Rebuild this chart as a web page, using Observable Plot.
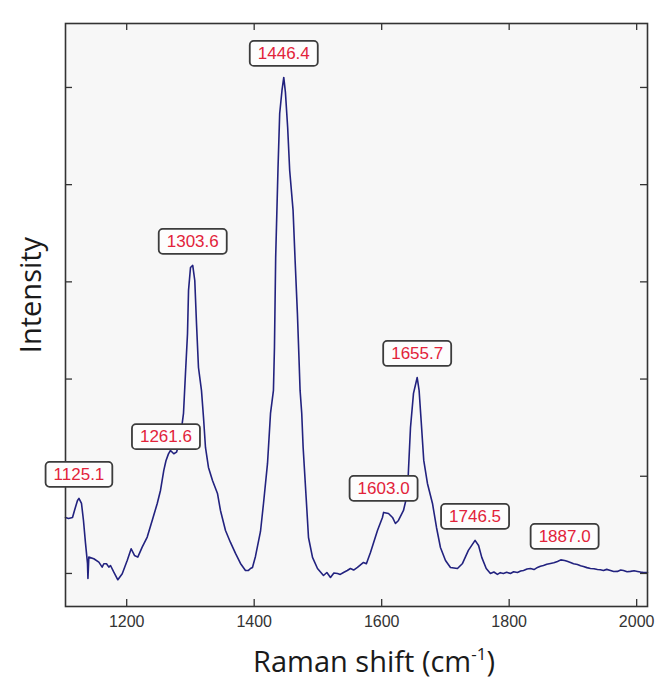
<!DOCTYPE html>
<html>
<head>
<meta charset="utf-8">
<script src="https://cdn.jsdelivr.net/npm/d3@7"></script>
<script src="https://cdn.jsdelivr.net/npm/@observablehq/plot@0.6"></script>
<style>
  html, body { margin: 0; padding: 0; background: #ffffff; }
</style>
</head>
<body>
<div id="chart"></div>
<script>
// Raman spectrum: wavenumber (cm-1) and intensity (arbitrary units)
const wavenumber = [
  1104, 1108.7, 1115, 1118.1, 1122.8, 1125.1, 1129.1, 1132.2, 1135.4, 1138.5,
  1139.2, 1140.6, 1148.4, 1156.3, 1161.5, 1164.1, 1168.3, 1172, 1174.6, 1179.8,
  1186.1, 1193, 1200.8, 1207, 1212.2, 1217.4, 1224.3, 1232.2, 1240, 1247.8,
  1253, 1258.2, 1261.6, 1265.5, 1268.7, 1273.9, 1278.1, 1283.3, 1289.1, 1292.2,
  1295.4, 1297, 1300.1, 1303.6, 1306.8, 1309.5, 1312.6, 1317.3, 1320.5, 1323.6,
  1328.3, 1334.6, 1342.4, 1347.1, 1355, 1362.8, 1370.7, 1378.5, 1386.3, 1391,
  1394.2, 1397.3, 1402, 1409.9, 1414.6, 1420.9, 1425.6, 1430.2, 1431.8, 1433.7,
  1437.4, 1440, 1443.6, 1446.4, 1449, 1452.5, 1455.7, 1461, 1464.2, 1467.8,
  1470.4, 1472, 1474.6, 1476.8, 1481.5, 1485.2, 1491.5, 1499.3, 1508.7, 1514,
  1519.7, 1525, 1530.7, 1535, 1540.1, 1546, 1551, 1556, 1562, 1571.5,
  1576, 1582.4, 1593.4, 1601.2, 1603.0, 1610.7, 1617, 1621.6, 1626.3, 1634.2,
  1640.5, 1642, 1645.2, 1649.9, 1655.7, 1658.7, 1661.9, 1666, 1671.8, 1679.7,
  1686, 1692.2, 1700.1, 1707.9, 1718.9, 1726.8, 1736, 1746.5, 1752, 1757,
  1764, 1770.6, 1776, 1781.6, 1786, 1791, 1796, 1802, 1807, 1813,
  1818, 1822.5, 1828, 1833.4, 1839, 1844.4, 1849, 1853.8, 1859, 1864.8,
  1870, 1875.8, 1881, 1887.0, 1891, 1896.2, 1901, 1907.1, 1912, 1916.5,
  1922, 1927.5, 1933, 1938.5, 1943, 1947.9, 1953, 1958.9, 1964, 1969.9,
  1975, 1979.3, 1985, 1990.3, 1996, 2001.3, 2006, 2010.7, 2017
];
const intensity = [
  576, 566, 576, 648, 751, 772, 720, 545, 309, 103,
  -51, 168, 151, 116, 65, 100, 100, 65, 82, 13,
  -65, -3, 134, 254, 185, 168, 271, 374, 545, 717,
  854, 1060, 1160, 1230, 1265, 1231, 1248, 1351, 1646, 2058,
  2469, 2912, 3148, 3169, 3014, 2572, 2119, 1883, 1605, 1296,
  1091, 957, 823, 648, 442, 319, 206, 103, 31, 31,
  51, 62, 175, 432, 720, 1132, 1646, 1883, 2325, 3251,
  4177, 4732, 4969, 5103, 4949, 4589, 4146, 3735, 3220, 2675,
  2191, 1883, 1646, 1296, 782, 370, 165, 51, -21, 10,
  -41, 5, 0, -10, 10, 30, 51, 35, 62, 113,
  100, 216, 442, 576, 628, 617, 576, 514, 545, 648,
  823, 1060, 1502, 1852, 2016, 1883, 1574, 1163, 926, 720,
  473, 267, 134, 62, 51, 103, 237, 340, 288, 165,
  51, 0, 15, -10, 8, 0, 12, 0, 18, 10,
  25, 31, 45, 51, 40, 62, 75, 82, 95, 103,
  110, 123, 140, 134, 125, 113, 100, 93, 80, 72,
  60, 51, 48, 41, 38, 31, 42, 31, 20, 21,
  35, 31, 18, 21, 28, 21, 14, 10, 10
];

// Annotated band positions (cm-1)
const peakPositions = [1125.1, 1261.6, 1303.6, 1446.4, 1603.0, 1655.7, 1746.5, 1887.0];

const xTicks = [1200, 1400, 1600, 1800, 2000];
const yTicks = [0, 1000, 2000, 3000, 4000, 5000];

const spectrum = wavenumber.map((x, i) => ({x, y: intensity[i]}));
const peaks = peakPositions.map(p => ({
  x: p,
  y: intensity[wavenumber.indexOf(p)],
  label: p.toFixed(1)
}));

const W = 662, H = 680;
const mL = 65, mR = 15, mT = 23, mB = 74;
const innerW = W - mL - mR, innerH = H - mT - mB;
const tickLen = 7;
const axisColor = "#333333";

const svg = Plot.plot({
  width: W,
  height: H,
  marginLeft: mL,
  marginRight: mR,
  marginTop: mT,
  marginBottom: mB,
  style: {background: "transparent", fontFamily: "'Liberation Sans', Arial, sans-serif", fontSize: "16px", color: axisColor},
  x: {domain: [1104, 2017], ticks: xTicks, tickSize: 0, tickPadding: 9, tickFormat: d => String(d), label: null},
  y: {domain: [-340, 5658], axis: null},
  marks: [
    Plot.frame({fill: "#f7f7f7", stroke: null}),
    Plot.line(spectrum, {x: "x", y: "y", stroke: "#22227f", strokeWidth: 1.6}),
    // inward ticks on all four sides
    Plot.tickX(xTicks, {x: d => d, insetTop: innerH - tickLen, stroke: axisColor, strokeWidth: 1.3}),
    Plot.tickX(xTicks, {x: d => d, insetBottom: innerH - tickLen, stroke: axisColor, strokeWidth: 1.3}),
    Plot.tickY(yTicks, {y: d => d, insetRight: innerW - tickLen, stroke: axisColor, strokeWidth: 1.3}),
    Plot.tickY(yTicks, {y: d => d, insetLeft: innerW - tickLen, stroke: axisColor, strokeWidth: 1.3}),
    Plot.frame({stroke: axisColor, strokeWidth: 1.6}),
    Plot.text(peaks, {
      x: "x", y: "y", text: "label", dy: -24,
      fill: "#e2233a", fontSize: 17,
      fontFamily: "'Liberation Sans', Arial, sans-serif",
      textAnchor: "middle", lineAnchor: "middle"
    })
  ]
});

document.getElementById("chart").append(svg);

// rounded boxes behind the peak labels
svg.querySelectorAll('g[aria-label="text"] text').forEach(t => {
  const b = t.getBBox();
  const padX = 8, padY = 3;
  const r = document.createElementNS("http://www.w3.org/2000/svg", "rect");
  r.setAttribute("x", b.x - padX);
  r.setAttribute("y", b.y - padY);
  r.setAttribute("width", b.width + 2 * padX);
  r.setAttribute("height", b.height + 2 * padY);
  r.setAttribute("rx", 4);
  r.setAttribute("fill", "#fdfdfd");
  r.setAttribute("stroke", "#3c3c3c");
  r.setAttribute("stroke-width", 1.8);
  const tr = t.getAttribute("transform");
  if (tr) r.setAttribute("transform", tr);
  t.parentNode.insertBefore(r, t);
});

// axis titles
const s = d3.select(svg);
s.append("text")
  .attr("transform", `translate(41,295) rotate(-90)`)
  .attr("text-anchor", "middle")
  .attr("fill", "#1a1a1a")
  .style("font-family", "'Open Sans', sans-serif")
  .style("font-size", "29px")
  .text("Intensity");

const xt = s.append("text")
  .attr("x", 374)
  .attr("y", 672)
  .attr("text-anchor", "middle")
  .attr("fill", "#1a1a1a")
  .style("font-family", "'Open Sans', sans-serif")
  .style("font-size", "29px");
xt.append("tspan").text("Raman shift (cm");
xt.append("tspan").attr("dy", -12).style("font-size", "17px").text("-1");
xt.append("tspan").attr("dy", 12).text(")");
</script>
</body>
</html>
